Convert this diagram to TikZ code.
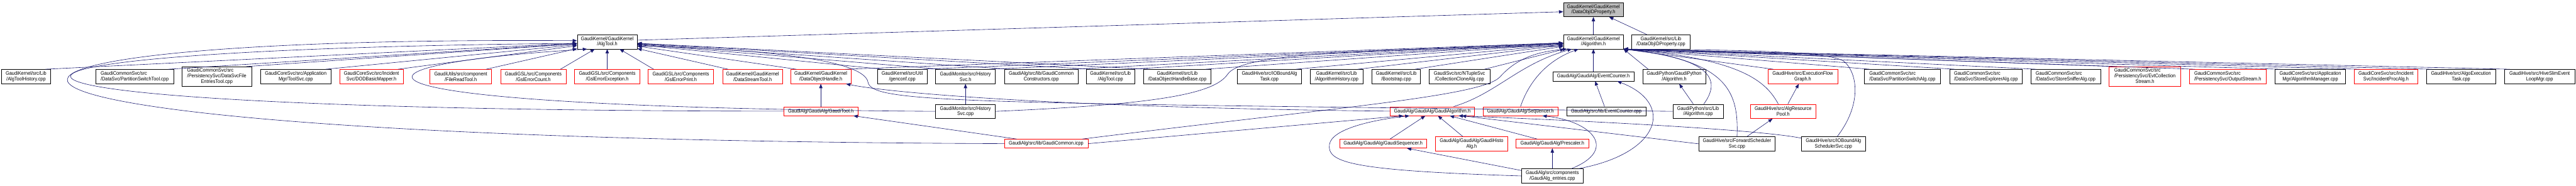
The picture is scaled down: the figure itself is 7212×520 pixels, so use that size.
\documentclass[tikz,border=0pt]{standalone}
\usepackage{fontspec}
\newfontfamily\dxfont[FakeStretch=0.9]{Liberation Sans}
\usepackage{tikz}
\usetikzlibrary{arrows.meta}
\usepackage{xcolor}
\definecolor{edgeblue}{HTML}{191970}
\definecolor{curgray}{HTML}{BFBFBF}

\begin{document}
\begin{tikzpicture}[x=0.75pt, y=0.75pt,
  hfile/.style={rectangle, draw=black, fill=white, line width=0.75pt,
    inner xsep=1pt, inner ysep=1pt, minimum height=30pt,
    font=\dxfont\fontsize{10.8}{11.3}\selectfont, align=center},
  hred/.style={hfile, draw=red},
  hcur/.style={hfile, fill=curgray},
  one/.style={minimum height=18.75pt},
  three/.style={minimum height=41.25pt},
  lft/.style={align=left},
  bw/.style={minimum width=#1*0.75pt},
  dep/.style={-{Triangle[length=9pt,width=7pt]}, draw=edgeblue, line width=0.8pt}
]
\useasboundingbox (0,0) rectangle (7212,-520);
\fill[white] (0,0) rectangle (7212,-520);

\node[hcur, bw=168] (doidph) at (4461,-27) {GaudiKernel/GaudiKernel\\/DataObjIDProperty.h};

\node[hfile, bw=168] (algtoolh) at (1700,-117) {GaudiKernel/GaudiKernel\\/AlgTool.h};
\node[hfile, bw=168] (algh)     at (4461,-117) {GaudiKernel/GaudiKernel\\/Algorithm.h};
\node[hfile, bw=163] (doidpcpp) at (4650,-117) {GaudiKernel/src/Lib\\/DataObjIDProperty.cpp};

\node[hfile, bw=138] (athist)   at (73,-214.5)   {GaudiKernel/src/Lib\\/AlgToolHistory.cpp};
\node[hfile, bw=219, lft] (pstool) at (377,-214.5) {GaudiCommonSvc/src\\/DataSvc/PartitionSwitchTool.cpp};
\node[hfile, bw=195, three] (fentries) at (607,-214.5)
  {\begin{tabular}{@{}l@{}}GaudiCommonSvc/src\\/PersistencySvc/DataSvcFile\\\multicolumn{1}{@{}c@{}}{EntriesTool.cpp}\end{tabular}};
\node[hfile, bw=198] (toolsvc)  at (828,-214.5)  {GaudiCoreSvc/src/Application\\Mgr/ToolSvc.cpp};
\node[hred, bw=179]  (dodmap)   at (1040,-214.5) {GaudiCoreSvc/src/Incident\\Svc/DODBasicMapper.h};
\node[hred, bw=173]  (frtool)   at (1290,-214.5) {GaudiUtils/src/component\\/FileReadTool.h};
\node[hred, bw=183]  (gslcount) at (1493,-214.5) {GaudiGSL/src/Components\\/GslErrorCount.h};
\node[hred, bw=183]  (gslexc)   at (1700,-214.5) {GaudiGSL/src/Components\\/GslErrorException.h};
\node[hred, bw=183]  (gslprint) at (1906,-214.5) {GaudiGSL/src/Components\\/GslErrorPrint.h};
\node[hred, bw=168]  (dstool)   at (2107,-214.5) {GaudiKernel/GaudiKernel\\/DataStreamTool.h};
\node[hred, bw=168]  (dohandle) at (2298,-214.5) {GaudiKernel/GaudiKernel\\/DataObjectHandle.h};
\node[hfile, bw=139] (genconf)  at (2526,-214.5) {GaudiKernel/src/Util\\/genconf.cpp};
\node[hfile, bw=167] (histh)    at (2703,-214.5) {GaudiMonitor/src/History\\Svc.h};
\node[hfile, bw=206] (gccons)   at (2915,-214.5) {GaudiAlg/src/lib/GaudiCommon\\Constructors.cpp};
\node[hfile, bw=136] (atcpp)    at (3109,-214.5) {GaudiKernel/src/Lib\\/AlgTool.cpp};
\node[hfile, bw=188] (dohbase)  at (3296,-214.5) {GaudiKernel/src/Lib\\/DataObjectHandleBase.cpp};
\node[hfile, bw=179] (iobtask)  at (3554,-214.5) {GaudiHive/src/IOBoundAlg\\Task.cpp};
\node[hfile, bw=149] (alghist)  at (3742,-214.5) {GaudiKernel/src/Lib\\/AlgorithmHistory.cpp};
\node[hfile, bw=136] (boot)     at (3909,-214.5) {GaudiKernel/src/Lib\\/Bootstrap.cpp};
\node[hfile, bw=171] (cclone)   at (4086,-214.5) {GaudiSvc/src/NTupleSvc\\/CollectionCloneAlg.cpp};
\node[hfile, bw=226, one] (evcnth) at (4461,-214.5) {GaudiAlg/GaudiAlg/EventCounter.h};
\node[hfile, bw=176] (pyalgh)   at (4687,-214.5) {GaudiPython/GaudiPython\\/Algorithm.h};
\node[hred, bw=195]  (efgraph)  at (5047,-214.5) {GaudiHive/src/ExecutionFlow\\Graph.h};
\node[hfile, bw=213, lft] (psalg)   at (5326,-214.5) {GaudiCommonSvc/src\\/DataSvc/PartitionSwitchAlg.cpp};
\node[hfile, bw=204, lft] (stexp)   at (5560,-214.5) {GaudiCommonSvc/src\\/DataSvc/StoreExplorerAlg.cpp};
\node[hfile, bw=195, lft] (stsniff) at (5783,-214.5) {GaudiCommonSvc/src\\/DataSvc/StoreSnifferAlg.cpp};
\node[hred, bw=200, three] (evtcoll) at (6005,-214.5)
  {\begin{tabular}{@{}l@{}}GaudiCommonSvc/src\\/PersistencySvc/EvtCollection\\\multicolumn{1}{@{}c@{}}{Stream.h}\end{tabular}};
\node[hred, bw=215, lft] (outstr) at (6237,-214.5) {GaudiCommonSvc/src\\/PersistencySvc/OutputStream.h};
\node[hfile, bw=198] (algmgr)   at (6468,-214.5) {GaudiCoreSvc/src/Application\\Mgr/AlgorithmManager.cpp};
\node[hred, bw=179]  (incproc)  at (6680,-214.5) {GaudiCoreSvc/src/Incident\\Svc/IncidentProcAlg.h};
\node[hfile, bw=193] (aexec)    at (6890,-214.5) {GaudiHive/src/AlgoExecution\\Task.cpp};
\node[hfile, bw=197] (hslim)    at (7110,-214.5) {GaudiHive/src/HiveSlimEvent\\LoopMgr.cpp};

\node[hred, bw=207, one] (gtoolh)  at (2298,-311.5) {GaudiAlg/GaudiAlg/GaudiTool.h};
\node[hfile, bw=167] (histcpp)     at (2703,-312)   {GaudiMonitor/src/History\\Svc.cpp};
\node[hred, bw=237, one] (galgh)   at (4010,-311.5) {GaudiAlg/GaudiAlg/GaudiAlgorithm.h};
\node[hred, bw=210, one] (seqh)    at (4257,-311.5) {GaudiAlg/GaudiAlg/Sequencer.h};
\node[hfile, bw=222, one] (evcntcpp) at (4497,-311.5) {GaudiAlg/src/lib/EventCounter.cpp};
\node[hfile, bw=141] (pyalgcpp)    at (4754,-312)   {GaudiPython/src/Lib\\/Algorithm.cpp};
\node[hred, bw=184]  (respool)     at (4992,-312)   {GaudiHive/src/AlgResource\\Pool.h};

\node[hred, bw=234, one] (gcicpp)  at (2929,-402.5) {GaudiAlg/src/lib/GaudiCommon.icpp};
\node[hred, bw=243, one] (gseqh)   at (3872,-402.5) {GaudiAlg/GaudiAlg/GaudiSequencer.h};
\node[hred, bw=202]  (ghisto)      at (4120,-403)   {GaudiAlg/GaudiAlg/GaudiHisto\\Alg.h};
\node[hred, bw=203, one] (presc)   at (4346,-402.5) {GaudiAlg/GaudiAlg/Prescaler.h};
\node[hfile, bw=214] (fwdsched)    at (4863,-403)   {GaudiHive/src/ForwardScheduler\\Svc.cpp};
\node[hfile, bw=179] (iobsched)    at (5133,-403)   {GaudiHive/src/IOBoundAlg\\SchedulerSvc.cpp};

\node[hfile, bw=172] (entries)     at (4346,-493)   {GaudiAlg/src/components\\/GaudiAlg\_entries.cpp};

\draw[dep] (algh) -- (doidph);
\draw[dep] ([xshift=-30pt]doidpcpp.north) -- (doidph);
\draw[dep] (algtoolh.3) -- (doidph.184);

\foreach \s in {athist,pstool,fentries,toolsvc,dodmap,frtool,gslcount}
  {\draw[dep] ([xshift=-12pt]\s.north east) -- (algtoolh);}
\draw[dep] (gslexc) -- (algtoolh);
\foreach \s in {gslprint,dstool,dohandle,genconf,histh,gccons,atcpp,dohbase}
  {\draw[dep] ([xshift=12pt]\s.north west) -- (algtoolh);}
\foreach \s in {dohandle,genconf,histh,gccons,atcpp,dohbase,iobtask,alghist,boot,cclone}
  {\draw[dep] ([xshift=-12pt]\s.north east) -- (algh);}
\foreach \s in {pyalgh,efgraph,psalg,stexp,stsniff,evtcoll,outstr,algmgr,incproc,aexec,hslim}
  {\draw[dep] ([xshift=12pt]\s.north west) -- (algh.south east);}
\draw[dep] (evcnth) -- (algh);

\draw[dep] (gtoolh.west) .. controls (-360,-310) and (-360,-140) .. (algtoolh.183);
\draw[dep] (gcicpp.west) .. controls (-450,-390) and (-450,-100) .. (algtoolh.178);
\draw[dep] (histcpp.west) .. controls (880,-300) and (880,-185) .. (algtoolh.200);
\draw[dep] (pyalgcpp.west) .. controls (2700,-287) and (2440,-290) .. (2430,-230)
  .. controls (2420,-175) and (2200,-140) .. (algtoolh.-8);

\draw[dep] (histcpp.east) .. controls (3250,-292) and (3400,-262) .. (3437,-208)
  .. controls (3475,-150) and (3800,-140) .. (algh.188);
\draw[dep] ([xshift=-12pt]gcicpp.north east) .. controls (3750,-300) and (4150,-270) .. (4200,-215)
  .. controls (4245,-165) and (4300,-145) .. ([xshift=8pt]algh.south west);
\draw[dep] ([xshift=45pt]galgh.north) .. controls (4190,-262) and (4250,-180) .. ([xshift=18pt]algh.south west);
\draw[dep] (seqh.north) .. controls (4280,-230) and (4330,-170) .. ([xshift=32pt]algh.south west);
\draw[dep] ([xshift=12pt]pyalgcpp.north) .. controls (4815,-230) and (4805,-165) .. (algh.south east);
\draw[dep] ([xshift=-10pt]respool.north) .. controls (4945,-230) and (4880,-165) .. (algh.south east);
\draw[dep] (fwdsched.north) .. controls (4868,-260) and (4840,-170) .. (algh.south east);
\draw[dep] ([xshift=8pt]iobsched.north) .. controls (5215,-290) and (5200,-200) .. (5160,-170)
  .. controls (5100,-140) and (4800,-140) .. (algh.south east);

\draw[dep] (gtoolh) -- (dohandle);
\draw[dep] (galgh.west) .. controls (3000,-302) and (2500,-262) .. ([xshift=53pt]dohandle.south);
\draw[dep] ([xshift=26pt]gcicpp.north west) -- (gtoolh);
\draw[dep] (gcicpp.east) -- ([xshift=-61pt]galgh.south);
\draw[dep] (histcpp) -- (histh);
\draw[dep] (gseqh) -- (galgh);
\draw[dep] (ghisto) -- (galgh);
\draw[dep] ([xshift=-32pt]presc.north) -- (galgh);
\draw[dep] (fwdsched.west) -- ([xshift=62pt]galgh.south);
\draw[dep] (iobsched.170) .. controls (4950,-368) and (4600,-345) .. ([xshift=55pt]galgh.south);

\draw[dep] (entries) -- (presc);
\draw[dep] (entries.170) -- (gseqh);
\draw[dep] (entries.west) .. controls (3780,-478) and (3715,-455) .. (3722,-405)
  .. controls (3728,-360) and (3850,-335) .. ([xshift=-48pt]galgh.south);
\draw[dep] ([xshift=40pt]entries.north) .. controls (4530,-420) and (4460,-340) .. ([xshift=46pt]seqh.south);
\draw[dep] ([xshift=55pt]entries.north) .. controls (4650,-430) and (4690,-290) .. ([xshift=50pt]evcnth.south);
\draw[dep] (evcntcpp) -- (evcnth);
\draw[dep] ([xshift=-10pt]pyalgcpp.north) -- (pyalgh);
\draw[dep] ([xshift=10pt]respool.north) -- (efgraph);
\draw[dep] ([xshift=21pt]fwdsched.north) -- (respool);
\end{tikzpicture}
\end{document}
